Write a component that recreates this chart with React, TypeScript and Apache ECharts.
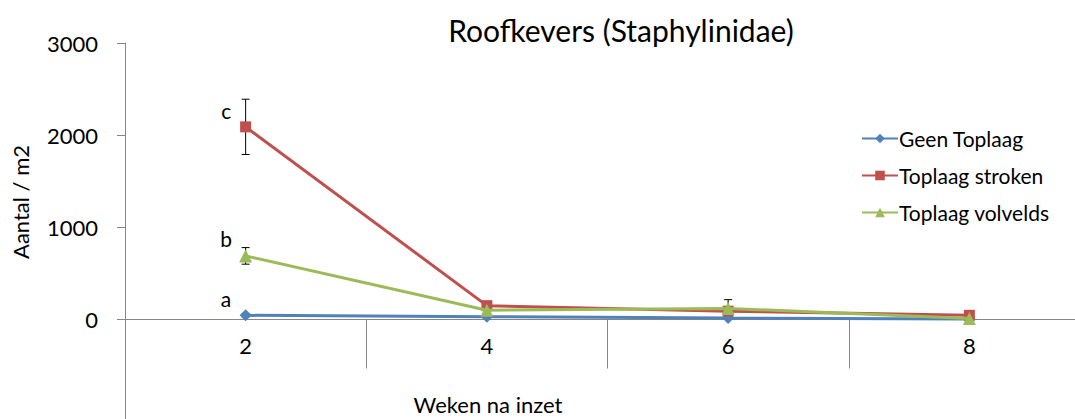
import React, { useEffect, useRef } from "react";
import * as echarts from "echarts";

const categories = ["2", "4", "6", "8"];
const seriesNames = ["Geen Toplaag", "Toplaag stroken", "Toplaag volvelds"];
const geenToplaag = [45, 30, 15, 5];
const toplaagStroken = [2090, 150, 90, 45];
const toplaagVolvelds = [690, 100, 120, 10];
const errGeen = [15, 10, 10, 5];
const errStroken = [300, 25, 30, 15];
const errVolvelds = [90, 20, 95, 10];
const letters = ["a", "c", "b"];
const yTicks = [0, 1000, 2000, 3000];

const colors = ["#4F81BD", "#C0504D", "#9BBB59"];
const symbols = ["diamond", "rect", "triangle"];
const FONT = "Lato";

export default function App() {
  const ref = useRef<HTMLDivElement>(null);
  useEffect(() => {
    document.body.style.margin = "0";
    if (!ref.current) return;
    const chart = echarts.init(ref.current, null, { renderer: "svg" });
    const values = [geenToplaag, toplaagStroken, toplaagVolvelds];
    const errs = [errGeen, errStroken, errVolvelds];

    const lineSeries = values.map((vals, si) => ({
      name: seriesNames[si],
      type: "line",
      data: vals.map((v, i) =>
        i === 0
          ? {
              value: v,
              label: {
                show: true,
                formatter: letters[si],
                position: [-19, -21],
                fontSize: 21,
                fontFamily: FONT,
                color: "#000",
              },
            }
          : v
      ),
      symbol: symbols[si],
      symbolSize: si === 1 ? 11 : si === 0 ? 12 : 13,
      showAllSymbol: true,
      lineStyle: { color: colors[si], width: 3 },
      itemStyle: { color: colors[si] },
      z: 3 + si,
    }));

    const errSeries = values.map((vals, si) => ({
      type: "custom",
      name: "err" + si,
      z: 2,
      silent: true,
      data: vals.map((v, i) => [i, v - errs[si][i], v + errs[si][i]]),
      renderItem: (params: any, api: any) => {
        const x = api.value(0);
        const lo = api.coord([x, api.value(1)]);
        const hi = api.coord([x, api.value(2)]);
        const w = 4;
        const style = { stroke: "#000", lineWidth: 1 };
        return {
          type: "group",
          children: [
            { type: "line", shape: { x1: lo[0], y1: lo[1], x2: hi[0], y2: hi[1] }, style },
            { type: "line", shape: { x1: lo[0] - w, y1: lo[1], x2: lo[0] + w, y2: lo[1] }, style },
            { type: "line", shape: { x1: hi[0] - w, y1: hi[1], x2: hi[0] + w, y2: hi[1] }, style },
          ],
        };
      },
    }));

    chart.setOption({
      animation: false,
      textStyle: { fontFamily: FONT },
      title: {
        text: "Roofkevers (Staphylinidae)",
        left: 616,
        textAlign: "center",
        top: 10,
        textStyle: { fontSize: 30, fontWeight: "normal", color: "#000", fontFamily: FONT },
      },
      legend: {
        orient: "vertical",
        left: 856,
        top: 123,
        itemGap: 16,
        itemWidth: 36,
        itemHeight: 12,
        data: seriesNames,
        textStyle: { fontSize: 21, color: "#000", fontFamily: FONT, padding: [0, 0, 0, -4] },
      },
      grid: { left: 125, right: -15, top: 43, bottom: 0, containLabel: false, outerBoundsMode: "none" },
      xAxis: {
        type: "category",
        data: categories,
        boundaryGap: true,
        axisLine: { onZero: true, lineStyle: { color: "#868686", width: 1 } },
        axisTick: { show: true, length: 49, alignWithLabel: false, lineStyle: { color: "#868686" } },
        axisLabel: { fontSize: 22, color: "#000", margin: -85, fontFamily: FONT },
        splitLine: { show: false },
      },
      yAxis: {
        type: "value",
        min: -1080,
        max: 3000,
        axisLine: { show: true, lineStyle: { color: "#868686", width: 1 } },
        axisTick: { show: true, length: 8, customValues: yTicks, lineStyle: { color: "#868686" } },
        axisLabel: {
          fontSize: 22,
          color: "#000",
          margin: 27,
          fontFamily: FONT,
          customValues: yTicks,
          formatter: (v: number) => String(v),
        },
        splitLine: { show: false },
      },
      graphic: [
        {
          type: "text",
          x: 20,
          y: 202,
          rotation: Math.PI / 2,
          style: {
            text: "Aantal / m2",
            fontSize: 22,
            fontFamily: FONT,
            fill: "#000",
            textAlign: "center",
            textVerticalAlign: "middle",
          },
        },
        {
          type: "text",
          x: 488,
          y: 404,
          style: {
            text: "Weken na inzet",
            fontSize: 22,
            fontFamily: FONT,
            fill: "#000",
            textAlign: "center",
            textVerticalAlign: "middle",
          },
        },
      ],
      series: [...lineSeries, ...errSeries],
    });
    return () => chart.dispose();
  }, []);
  return <div ref={ref} style={{ width: 1075, height: 419 }} />;
}
